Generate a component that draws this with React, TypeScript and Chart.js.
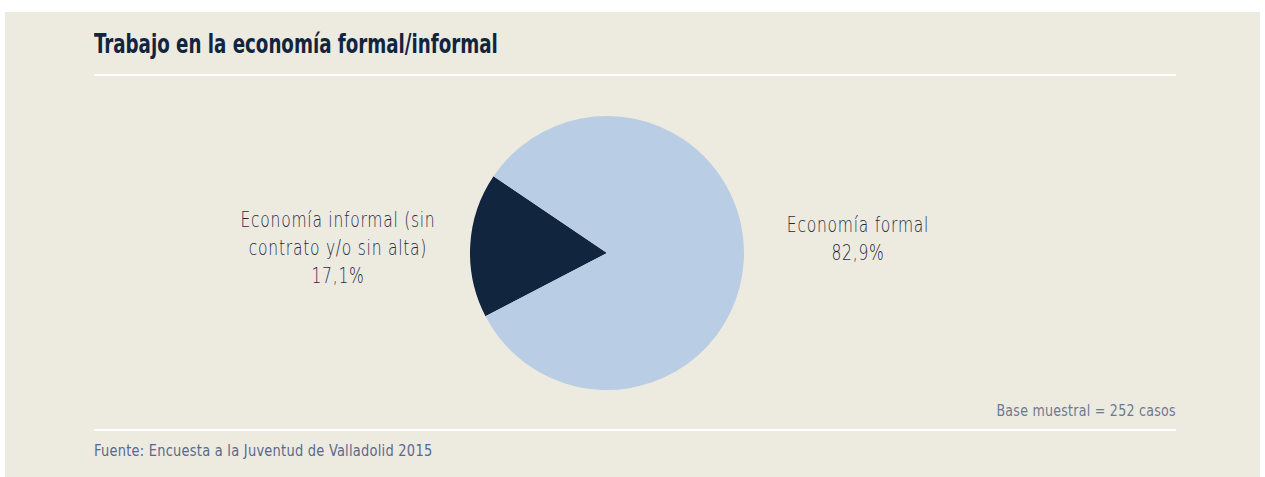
import React, { useEffect, useRef } from "react";
import { Chart, registerables } from "chart.js";

Chart.register(...registerables);

const categories: string[][] = [
  ["Economía informal (sin", "contrato y/o sin alta)"],
  ["Economía formal"],
];
const values: number[] = [17.1, 82.9];
const valueLabels: string[] = ["17,1%", "82,9%"];
const colors: string[] = ["#11253f", "#b9cde4"];

const title = "Trabajo en la economía formal/informal";
const baseNote = "Base muestral = 252 casos";
const source = "Fuente: Encuesta a la Juventud de Valladolid 2015";

const labelFont = "'DejaVu Sans', sans-serif";

export default function App() {
  const ref = useRef<HTMLCanvasElement | null>(null);

  useEffect(() => {
    if (!ref.current) return;
    const chart = new Chart(ref.current, {
      type: "pie",
      data: {
        labels: categories.map((c) => c.join(" ")),
        datasets: [
          {
            data: values,
            backgroundColor: colors,
            borderWidth: 0,
          },
        ],
      },
      options: {
        animation: false,
        responsive: false,
        rotation: 242.5,
        layout: { padding: 0 },
        plugins: {
          legend: { display: false },
          tooltip: { enabled: false },
        },
      },
    });
    return () => chart.destroy();
  }, []);

  const labelStyle: React.CSSProperties = {
    position: "absolute",
    fontFamily: labelFont,
    fontSize: 21,
    lineHeight: "28px",
    color: "#1f2b44",
    textAlign: "center",
    letterSpacing: "1px",
    fontWeight: 200,
    transform: "scaleX(0.74)",
    transformOrigin: "center",
    whiteSpace: "nowrap",
  };

  return (
    <div
      style={{
        position: "absolute",
        left: 0,
        top: 0,
        width: 1265,
        height: 477,
        background: "#ffffff",
        overflow: "hidden",
      }}
    >
      <div
        style={{
          position: "absolute",
          left: 5,
          top: 12,
          width: 1255,
          height: 465,
          background: "#edeae0",
        }}
      />
      <div
        style={{
          position: "absolute",
          left: 94,
          top: 28,
          fontFamily: "'DejaVu Sans Condensed', 'DejaVu Sans', sans-serif",
          fontWeight: "bold",
          fontSize: 26,
          lineHeight: "32px",
          color: "#11253f",
          whiteSpace: "nowrap",
          transform: "scaleX(0.78)",
          transformOrigin: "left center",
        }}
      >
        {title}
      </div>
      <div style={{ position: "absolute", left: 94, top: 74, width: 1082, height: 2, background: "#ffffff" }} />
      <div style={{ position: "absolute", left: 94, top: 429, width: 1082, height: 2, background: "#ffffff" }} />
      <canvas
        ref={ref}
        width={274}
        height={274}
        style={{ position: "absolute", left: 470, top: 116, width: 274, height: 274 }}
      />
      <div style={{ ...labelStyle, left: 188, top: 206, width: 300 }}>
        {categories[0].map((l, i) => (
          <div key={i}>{l}</div>
        ))}
        <div>{valueLabels[0]}</div>
      </div>
      <div style={{ ...labelStyle, left: 708, top: 211, width: 300 }}>
        {categories[1].map((l, i) => (
          <div key={i}>{l}</div>
        ))}
        <div>{valueLabels[1]}</div>
      </div>
      <div
        style={{
          position: "absolute",
          right: 1265 - 1176,
          top: 401,
          fontFamily: "'DejaVu Sans Condensed', 'DejaVu Sans', sans-serif",
          fontSize: 16,
          lineHeight: "20px",
          color: "#6a7a90",
          whiteSpace: "nowrap",
          letterSpacing: "0.3px",
          transform: "scaleX(0.876)",
          transformOrigin: "right center",
        }}
      >
        {baseNote}
      </div>
      <div
        style={{
          position: "absolute",
          left: 94,
          top: 441,
          fontFamily: "'DejaVu Sans Condensed', 'DejaVu Sans', sans-serif",
          fontSize: 16,
          lineHeight: "20px",
          color: "#56698e",
          whiteSpace: "nowrap",
          letterSpacing: "0.3px",
          transform: "scaleX(0.9)",
          transformOrigin: "left center",
        }}
      >
        {source}
      </div>
    </div>
  );
}
